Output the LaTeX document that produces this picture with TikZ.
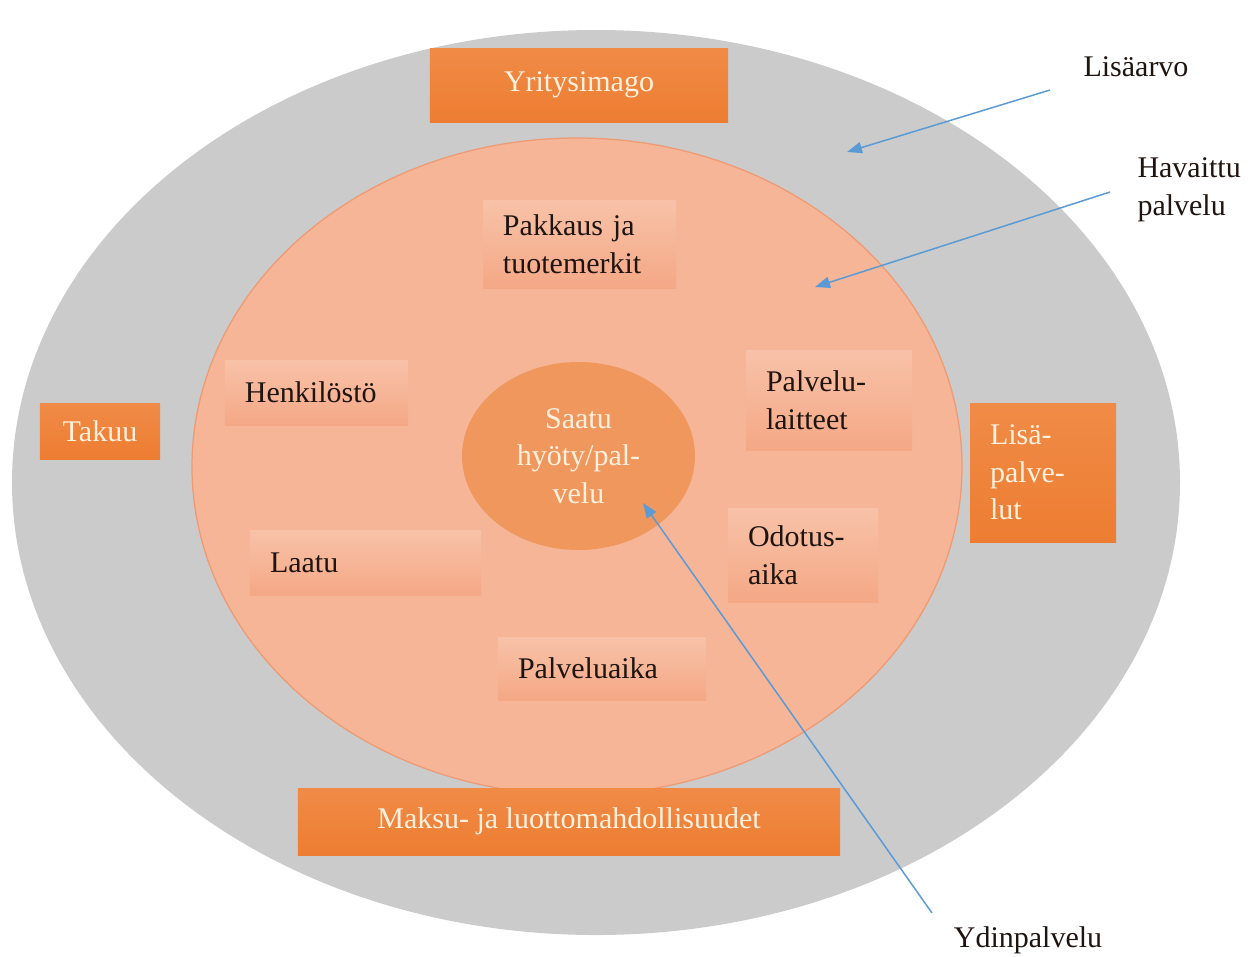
\documentclass[tikz,border=0pt]{standalone}
\usepackage{fontspec}
\setmainfont{Liberation Serif}
\usetikzlibrary{positioning,arrows.meta,shapes.geometric}
\definecolor{ringgray}{HTML}{CBCBCB}
\definecolor{salmon}{HTML}{F6B597}
\definecolor{salmonedge}{HTML}{EE9A72}
\definecolor{coreorange}{HTML}{F0975E}
\definecolor{boxorange}{HTML}{ED7D31}
\definecolor{boxtop}{HTML}{F08B47}
\definecolor{tiletop}{HTML}{F8C2A8}
\definecolor{tilebottom}{HTML}{F4A886}
\definecolor{cream}{HTML}{FFF1DE}
\definecolor{ink}{HTML}{1E1410}
\definecolor{pointer}{HTML}{5B9BD5}
\tikzset{
    ring/.style={
        ellipse, inner sep=0pt, draw=none
    },
    orangebox/.style={
        top color=boxtop, bottom color=boxorange, inner sep=0pt,
        text=cream, font=\fontsize{12}{15}\selectfont, align=center
    },
    tile/.style={
        top color=tiletop, bottom color=tilebottom, inner xsep=8pt, inner ysep=0pt,
        text=ink, font=\fontsize{12}{15}\selectfont, align=left
    },
    tag/.style={
        inner sep=0pt, text=ink, font=\fontsize{12}{15}\selectfont, align=left
    },
    arrow/.style={-{Triangle[length=6pt,width=4.5pt]}, line width=0.6pt, color=pointer},
}

\begin{document}
\begin{tikzpicture}[x=0.4pt, y=-0.4pt]
    \useasboundingbox (0,0) rectangle (1256,956);
    % rings
    \node[ring, fill=ringgray, minimum width=467.2pt, minimum height=362pt] (lisaarvo) at (596,482.5) {};
    \node[ring, fill=salmon, draw=salmonedge, line width=0.5pt, minimum width=308pt, minimum height=262.8pt] (havaittu) at (577,466.5) {};
    \node[ring, fill=coreorange, minimum width=93.2pt, minimum height=75.2pt,
        text=cream, font=\fontsize{12}{15}\selectfont, align=center] (ydin) at (578.5,456) {Saatu\\hyöty/pal-\\velu};
    % outer ring boxes
    \node[orangebox, minimum width=119.2pt, minimum height=29.6pt] (imago) at (579,85) {Yritysimago};
    \node[orangebox, minimum width=48pt, minimum height=22.4pt] (takuu) at (100,431) {Takuu};
    \node[orangebox, text width=42.4pt, inner xsep=8pt, align=left, minimum height=55.6pt] (lisapalvelut) at (1043,472.5) {Lisä-\\palve-\\lut};
    \node[orangebox, minimum width=216.8pt, minimum height=26.8pt] (maksu) at (569,821.5) {Maksu- ja luottomahdollisuudet};
    % inner ring tiles
    \node[tile, text width=61.2pt, minimum height=35.2pt] (pakkaus) at (579.5,244) {Pakkaus ja\\tuotemerkit};
    \node[tile, text width=57.2pt, minimum height=26pt] (henkilosto) at (316.5,392.5) {Henkilöstö};
    \node[tile, text width=50.4pt, minimum height=40pt] (laitteet) at (829,400) {Palvelu-\\laitteet};
    \node[tile, text width=44pt, minimum height=37.6pt] (odotus) at (803,555) {Odotus-\\aika};
    \node[tile, text width=76.4pt, minimum height=26pt] (laatu) at (365.5,562.5) {Laatu};
    \node[tile, text width=67.2pt, minimum height=25.2pt] (palveluaika) at (602,668.5) {Palveluaika};
    % labels
    \node[tag] (tag-lisaarvo) at (1136,67) {Lisäarvo};
    \node[tag, anchor=west] (tag-havaittu) at (1137,190) {Havaittu\\palvelu};
    \node[tag] (tag-ydin) at (1028,940) {Ydinpalvelu};
    % pointers
    \coordinate (lisaarvo-from) at (1050,90);
    \coordinate (lisaarvo-to) at (847,152);
    \coordinate (havaittu-from) at (1110,192);
    \coordinate (havaittu-to) at (815,287);
    \coordinate (ydin-from) at (932,913);
    \coordinate (ydin-to) at (643,503);
    \draw[arrow] (lisaarvo-from) -- (lisaarvo-to);
    \draw[arrow] (havaittu-from) -- (havaittu-to);
    \draw[arrow] (ydin-from) -- (ydin-to);
\end{tikzpicture}
\end{document}
